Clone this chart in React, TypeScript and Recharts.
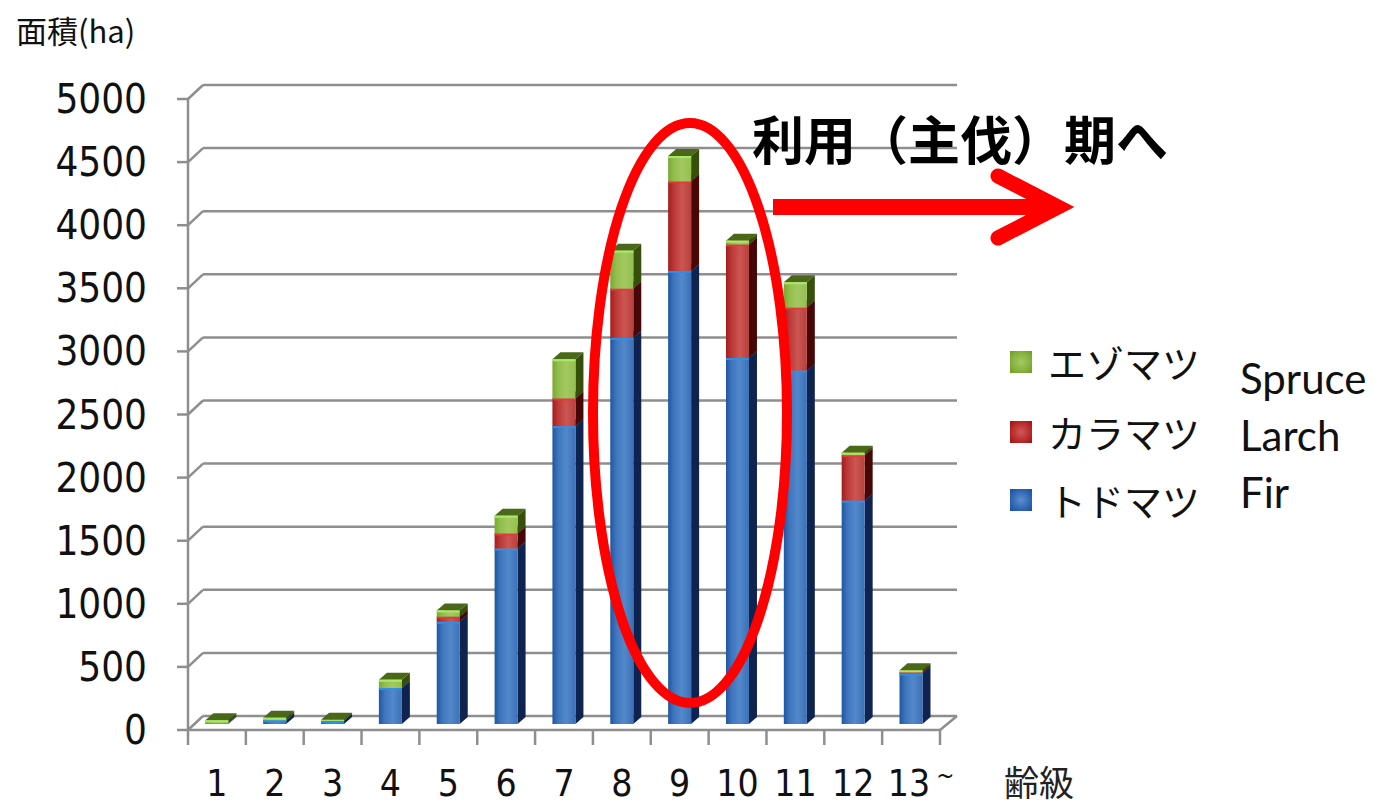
import { BarChart, Bar, XAxis, YAxis, CartesianGrid, Legend } from "recharts"

// age classes (齢級) and stand area in ha per species
const ageClasses = ["1", "2", "3", "4", "5", "6", "7", "8", "9", "10", "11", "12", "13~"]
const firArea = [5, 30, 25, 285, 810, 1390, 2360, 3060, 3590, 2900, 2800, 1770, 400]
const larchArea = [0, 0, 0, 0, 40, 120, 220, 390, 710, 900, 500, 360, 10]
const spruceArea = [25, 20, 8, 65, 50, 140, 310, 300, 200, 30, 200, 20, 15]
const valueTicks = [0, 500, 1000, 1500, 2000, 2500, 3000, 3500, 4000, 4500, 5000]

const speciesKeys = ["spruce", "larch", "fir"]
const speciesJa = ["エゾマツ", "カラマツ", "トドマツ"]
const speciesEn = ["Spruce", "Larch", "Fir"]

const data = ageClasses.map((age, i) => ({
  age,
  fir: firArea[i],
  larch: larchArea[i],
  spruce: spruceArea[i],
}))

const W = 1388
const H = 805
const PLOT_LEFT = 188
const PLOT_RIGHT = 940
const PLOT_TOP = 93
const PLOT_BOTTOM = 724
const BAND = (PLOT_RIGHT - PLOT_LEFT) / ageClasses.length

// depth of the 3-D boxes
const DX = 8
const DY = 7

const NUM_FONT = "'DejaVu Sans Condensed', 'DejaVu Sans', sans-serif"
const JA_FONT = "'Noto Sans CJK JP', sans-serif"
const GRID = "#8e8e8e"

const tones: Record<string, { base: string; side: string; top: string; rim: string }> = {
  fir: { base: "#4f81bd", side: "#0e2350", top: "#2b63ad", rim: "#2a90ea" },
  larch: { base: "#c0504d", side: "#480707", top: "#861818", rim: "#e23a3a" },
  spruce: { base: "#9bbb59", side: "#36500c", top: "#4a6818", rim: "#a6ea66" },
}

function Box3D(props: any) {
  const { x, y, width, height, tone } = props
  if (!height || height <= 0) return null
  const t = tones[tone]
  const w = width
  return (
    <g>
      <polygon
        points={`${x},${y} ${x + DX},${y - DY} ${x + w + DX},${y - DY} ${x + w},${y}`}
        fill={t.top}
      />
      <polygon
        points={`${x + w},${y} ${x + w + DX},${y - DY} ${x + w + DX},${y + height - DY} ${x + w},${y + height}`}
        fill={t.side}
      />
      <rect x={x} y={y} width={w} height={height} fill={`url(#face-${tone})`} />
      <rect x={x} y={y} width={w} height={Math.min(2, height)} fill={t.rim} />
    </g>
  )
}

function gridLine(p: any) {
  const { x1, x2, y1 } = p
  const floor = Math.abs(y1 - PLOT_BOTTOM) < 0.5
  return (
    <g key={p.key}>
      <line x1={x1} y1={y1 + 6} x2={x1 + 15} y2={y1 - 8} stroke={GRID} strokeWidth={2.5} />
      <line x1={x1 + 15} y1={y1 - 8} x2={x2 + 17} y2={y1 - 8} stroke={GRID} strokeWidth={2.5} />
      {floor && (
        <>
          <line x1={x1} y1={y1 + 6} x2={x2} y2={y1 + 6} stroke={GRID} strokeWidth={2.5} />
          <line x1={x2} y1={y1 + 6} x2={x2 + 17} y2={y1 - 8} stroke={GRID} strokeWidth={2.5} />
        </>
      )}
    </g>
  )
}

function ValueTick(props: any) {
  const { y, payload } = props
  return (
    <g>
      <line x1={PLOT_LEFT - 11} y1={y + 6} x2={PLOT_LEFT} y2={y + 6} stroke={GRID} strokeWidth={2.5} />
      <text
        x={147}
        y={y + 6}
        textAnchor="end"
        dominantBaseline="central"
        fontFamily={NUM_FONT}
        fontSize={40}
        fill="#111"
      >
        {payload.value}
      </text>
    </g>
  )
}

function AgeTick(props: any) {
  const { x, payload, index } = props
  const label = String(payload.value)
  const tilde = label.endsWith("~")
  const last = index === ageClasses.length - 1
  return (
    <g>
      <line x1={x - BAND / 2} y1={PLOT_BOTTOM + 6} x2={x - BAND / 2} y2={PLOT_BOTTOM + 21} stroke={GRID} strokeWidth={2.5} />
      {last && (
        <line x1={x + BAND / 2} y1={PLOT_BOTTOM + 6} x2={x + BAND / 2} y2={PLOT_BOTTOM + 21} stroke={GRID} strokeWidth={2.5} />
      )}
      <text
        x={x + (tilde ? 10 : 0)}
        y={PLOT_BOTTOM + 72}
        textAnchor="middle"
        fontFamily={NUM_FONT}
        fontSize={37}
        fill="#111"
      >
        {tilde ? label.slice(0, -1) : label}
        {tilde && (
          <tspan dx={6} dy={-12} fontSize={24}>
            ~
          </tspan>
        )}
      </text>
    </g>
  )
}

const swatch: Record<string, string> = {
  spruce: "radial-gradient(circle, #a4c866 0%, #86b23c 60%, #6e9a22 100%)",
  larch: "radial-gradient(circle, #cf5a58 0%, #b92a2a 60%, #a01010 100%)",
  fir: "radial-gradient(circle, #5d8fcf 0%, #2f66b0 60%, #1a4e9e 100%)",
}

function SpeciesLegend() {
  return (
    <div style={{ position: "relative", width: 380, height: 180 }}>
      {speciesKeys.map((key, i) => (
        <div
          key={key}
          style={{ position: "absolute", left: 0, top: [22, 92, 160][i] - 20, height: 40, display: "flex", alignItems: "center" }}
        >
          <span style={{ display: "inline-block", width: 22, height: 22, marginLeft: 2, background: swatch[key] }} />
          <span style={{ marginLeft: 16, fontFamily: JA_FONT, fontSize: 38, lineHeight: "40px", color: "#111" }}>
            {speciesJa[i]}
          </span>
        </div>
      ))}
      {speciesEn.map((name, i) => (
        <div
          key={name}
          style={{
            position: "absolute",
            left: 232,
            top: 38 + i * 57 - 25,
            height: 50,
            lineHeight: "50px",
            fontFamily: "Lato, sans-serif",
            fontSize: 42,
            color: "#111",
          }}
        >
          {name}
        </div>
      ))}
    </div>
  )
}

export default function App() {
  return (
    <div style={{ position: "absolute", left: 0, top: 0, width: W, height: H, background: "#fff", overflow: "hidden" }}>
      <BarChart
        width={W}
        height={H}
        data={data}
        margin={{ top: PLOT_TOP, right: W - PLOT_RIGHT, bottom: 0, left: PLOT_LEFT - 140 }}
        barCategoryGap="30%"
      >
        <defs>
          <linearGradient id="face-fir" x1="0" y1="0" x2="1" y2="0">
            <stop offset="0%" stopColor="#1f56a2" />
            <stop offset="25%" stopColor="#3f75bd" />
            <stop offset="60%" stopColor="#5289cb" />
            <stop offset="100%" stopColor="#3c70b6" />
          </linearGradient>
          <linearGradient id="face-larch" x1="0" y1="0" x2="1" y2="0">
            <stop offset="0%" stopColor="#a41c1c" />
            <stop offset="25%" stopColor="#bb3a38" />
            <stop offset="60%" stopColor="#cb5652" />
            <stop offset="100%" stopColor="#b8403c" />
          </linearGradient>
          <linearGradient id="face-spruce" x1="0" y1="0" x2="1" y2="0">
            <stop offset="0%" stopColor="#7ba632" />
            <stop offset="25%" stopColor="#92be4c" />
            <stop offset="60%" stopColor="#a3c862" />
            <stop offset="100%" stopColor="#94c04e" />
          </linearGradient>
        </defs>
        <CartesianGrid horizontal={gridLine} vertical={false} />
        <XAxis dataKey="age" height={H - PLOT_BOTTOM} axisLine={false} tickLine={false} tick={<AgeTick />} interval={0} />
        <YAxis
          width={140}
          domain={[0, 5000]}
          ticks={valueTicks}
          interval={0}
          tickLine={false}
          axisLine={{ stroke: GRID, strokeWidth: 2.5, transform: "translate(0,6)" }}
          tick={<ValueTick />}
        />
        <Legend
          layout="vertical"
          align="center"
          verticalAlign="middle"
          wrapperStyle={{ left: 1008, top: 340, width: 380 }}
          content={<SpeciesLegend />}
        />
        <Bar dataKey="fir" name="トドマツ" stackId="a" fill={tones.fir.base} isAnimationActive={false}
          shape={(p: any) => <Box3D {...p} tone="fir" />} />
        <Bar dataKey="larch" name="カラマツ" stackId="a" fill={tones.larch.base} isAnimationActive={false}
          shape={(p: any) => <Box3D {...p} tone="larch" />} />
        <Bar dataKey="spruce" name="エゾマツ" stackId="a" fill={tones.spruce.base} isAnimationActive={false}
          shape={(p: any) => <Box3D {...p} tone="spruce" />} />
      </BarChart>

      {/* titles and the harvest-period callout */}
      <svg width={W} height={H} style={{ position: "absolute", left: 0, top: 0, pointerEvents: "none" }}>
        <text x={16} y={43} fontFamily={JA_FONT} fontSize={31} fontWeight={400} fill="#111">
          面積(ha)
        </text>
        <text x={1004} y={796} fontFamily={JA_FONT} fontSize={35} fill="#222">
          齢級
        </text>
        <ellipse cx={690} cy={413} rx={97} ry={290} fill="none" stroke="#ff0000" strokeWidth={10} />
        <line x1={773} y1={207} x2={1052} y2={207} stroke="#ff0000" strokeWidth={16} />
        <polyline points="998,176 1058,207 998,238" fill="none" stroke="#ff0000" strokeWidth={15} strokeLinejoin="miter" strokeLinecap="round" />
        <text x={752} y={160} fontFamily={JA_FONT} fontSize={52} fontWeight={700} fill="#000">
          利用（主伐）期へ
        </text>
      </svg>
    </div>
  )
}
